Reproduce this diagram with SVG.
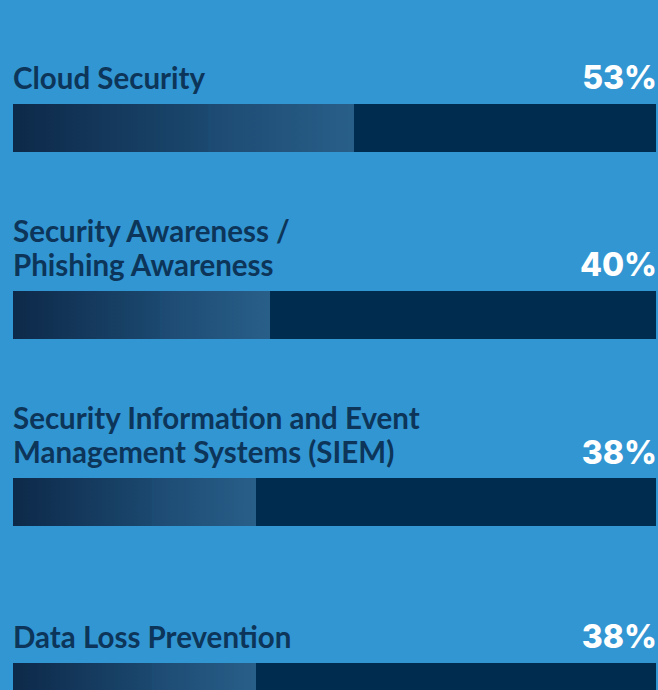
<svg xmlns="http://www.w3.org/2000/svg" width="658" height="690" viewBox="0 0 658 690">
<defs>
<linearGradient id="g" x1="0" y1="0" x2="1" y2="0">
<stop offset="0" stop-color="#0d2949"/>
<stop offset="0.57" stop-color="#1b486f"/>
<stop offset="0.575" stop-color="#1a4d75"/>
<stop offset="0.58" stop-color="#1d4a72"/>
<stop offset="1" stop-color="#285f89"/>
</linearGradient>
<style>
.lbl{font-family:Lato,"Liberation Sans",sans-serif;font-weight:700;font-size:29.5px;fill:#0c3559}
.pct{font-family:Inter,"Liberation Sans",sans-serif;font-weight:800;font-size:32px;fill:#ffffff;text-anchor:end}
.track{fill:#002d4f}
.fill{fill:url(#g)}
</style>
</defs>
<rect width="658" height="690" fill="#3296d3"/>
<g id="cloud-security">
<text class="lbl" x="13" y="89">Cloud Security</text>
<text class="pct" x="657" y="89">53%</text>
<rect class="track" x="13" y="104" width="643" height="48"/>
<rect class="fill" x="13" y="104" width="341" height="48"/>
</g>
<g id="security-awareness">
<text class="lbl" x="13" y="242">Security Awareness /</text>
<text class="lbl" x="13" y="276">Phishing Awareness</text>
<text class="pct" x="657" y="276">40%</text>
<rect class="track" x="13" y="291" width="643" height="48"/>
<rect class="fill" x="13" y="291" width="257" height="48"/>
</g>
<g id="siem">
<text class="lbl" x="13" y="429">Security Information and Event</text>
<text class="lbl" x="13" y="463">Management Systems (SIEM)</text>
<text class="pct" x="657" y="464">38%</text>
<rect class="track" x="13" y="478" width="643" height="48"/>
<rect class="fill" x="13" y="478" width="243" height="48"/>
</g>
<g id="data-loss-prevention">
<text class="lbl" x="13" y="648">Data Loss Prevention</text>
<text class="pct" x="657" y="648">38%</text>
<rect class="track" x="13" y="663" width="643" height="48"/>
<rect class="fill" x="13" y="663" width="243" height="48"/>
</g>
<g id="connectors"/>
</svg>
